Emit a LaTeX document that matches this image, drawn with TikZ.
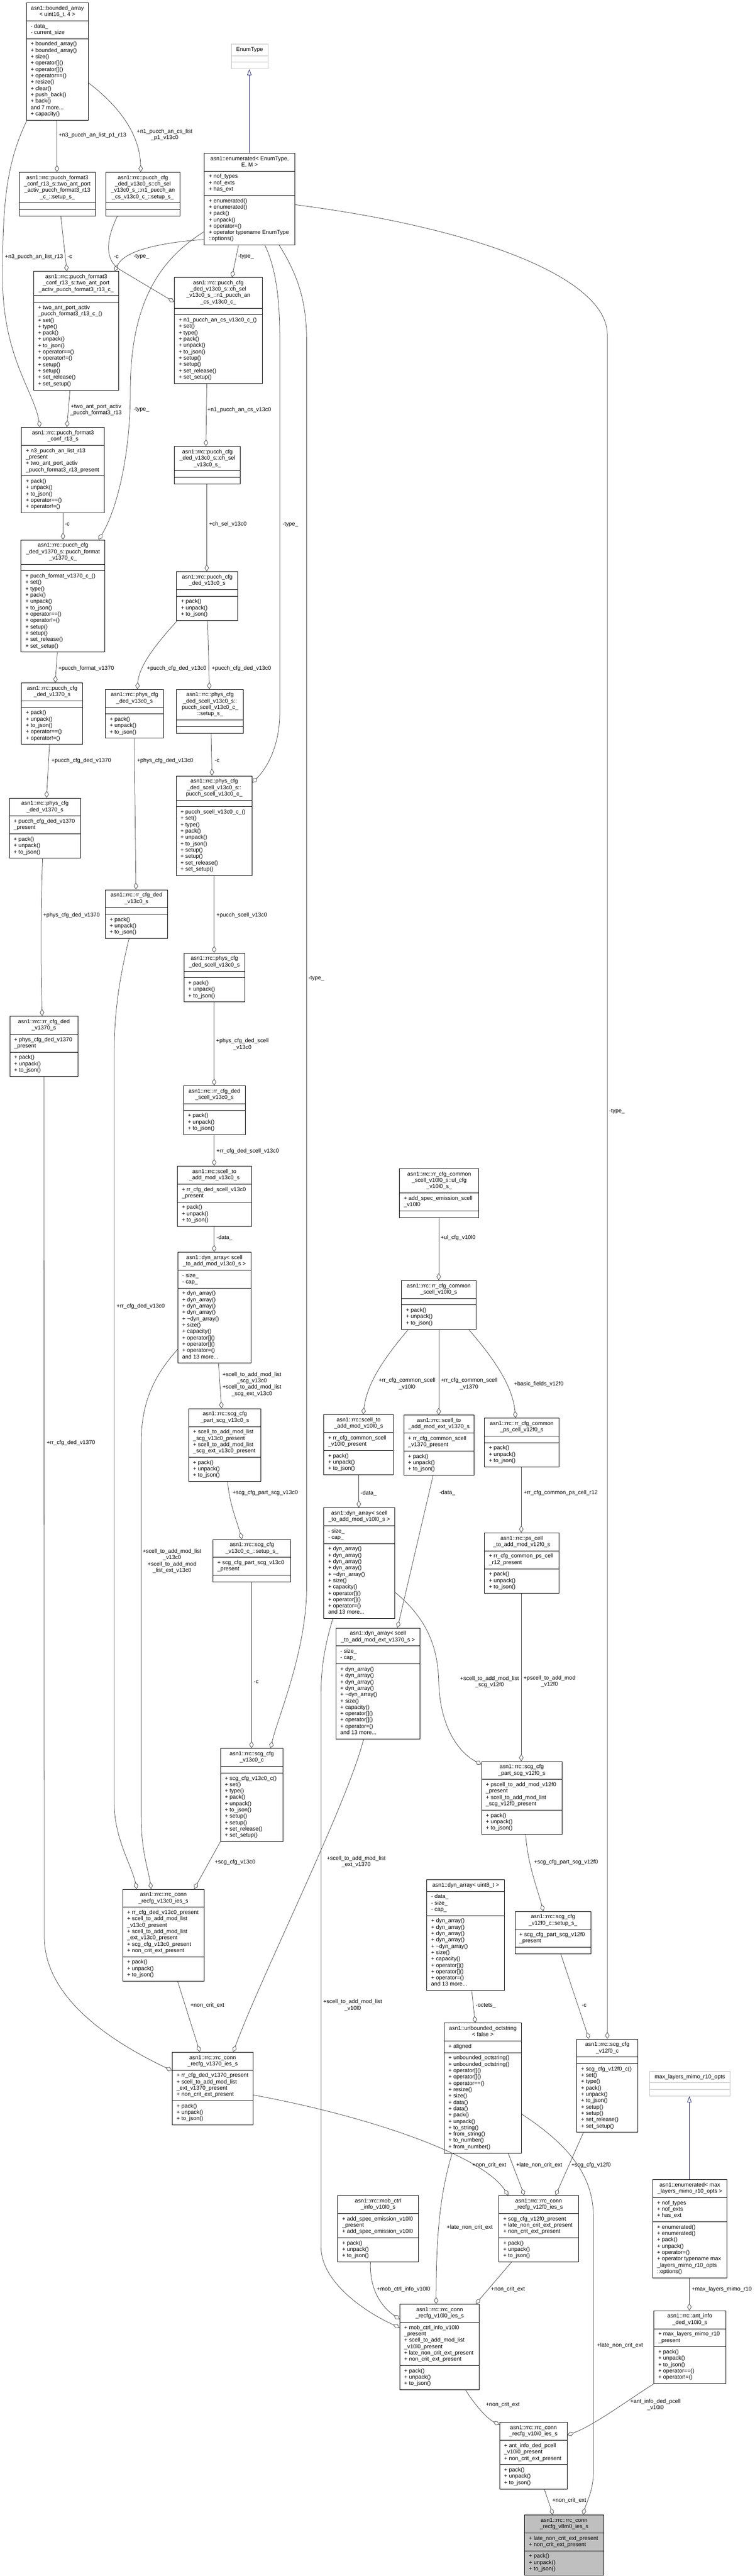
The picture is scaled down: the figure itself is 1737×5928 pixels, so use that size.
\documentclass[tikz,border=0pt]{standalone}
\usepackage{fontspec}
\setmainfont{Liberation Sans}
\usetikzlibrary{shapes.multipart,arrows.meta}
\definecolor{edgegray}{HTML}{404040}
\definecolor{inhblue}{HTML}{191970}
\definecolor{boxgray}{HTML}{BFBFBF}
\newcommand{\dfont}{\fontsize{12.9}{14.6}\selectfont}
\newcommand{\ctab}[1]{\begin{tabular}{@{}c@{}}#1\end{tabular}}
\newcommand{\ltab}[1]{\begin{tabular}{@{}l@{}}#1\end{tabular}}
\newcommand{\pujs}{+ pack()\\+ unpack()\\+ to\_json()}
\newcommand{\dynm}{+ dyn\_array()\\+ dyn\_array()\\+ dyn\_array()\\+ dyn\_array()\\+ \textasciitilde dyn\_array()\\+ size()\\+ capacity()\\+ operator[]()\\+ operator[]()\\+ operator=()\\and 13 more...}
\newcommand{\chm}[1]{+ #1()\\+ set()\\+ type()\\+ pack()\\+ unpack()\\+ to\_json()\\+ setup()\\+ setup()\\+ set\_release()\\+ set\_setup()}
\tikzstyle{cls} = [rectangle split,rectangle split parts=3,rectangle split part align={center,left,left},draw=black,line width=1.1pt,fill=white,anchor=north west,inner xsep=10pt,inner ysep=5.5pt,font=\dfont]
\tikzstyle{grcls} = [cls,draw=boxgray]
\tikzstyle{maincls} = [cls,fill=boxgray]
\tikzstyle{agg} = [draw=edgegray,line width=0.9pt,-{Diamond[open,length=16pt,width=10pt]}]
\tikzstyle{inh} = [draw=inhblue,line width=0.9pt,-{Triangle[open,length=14pt,width=10pt]}]
\tikzstyle{lbl} = [font=\dfont,inner sep=0pt,anchor=west]
\tikzstyle{mlbl} = [font=\dfont,inner sep=0pt,anchor=center]
\newcommand{\umlbox}[8][cls]{\node (#2) [#1,minimum width=#5pt] at (#3,#4) {\ctab{#6}\nodepart{two}\ltab{#7}\nodepart{three}\ltab{#8}};}
\begin{document}
\catcode`\_=12
\begin{tikzpicture}[x=1pt,y=-1pt]
\useasboundingbox (0,0) rectangle (1737,5928);
\fill[white] (0,0) rectangle (1737,5928);

% classes
\umlbox{ba}{60}{6}{143}{asn1::bounded_array\\< uint16_t, 4 >}{- data_\\- current_size}{+ bounded_array()\\+ bounded_array()\\+ size()\\+ operator[]()\\+ operator[]()\\+ operator==()\\+ resize()\\+ clear()\\+ push_back()\\+ back()\\and 7 more...\\+ capacity()}
\umlbox[grcls]{et}{532}{101}{84}{EnumType}{}{}
\umlbox{en}{470}{352}{208}{asn1::enumerated< EnumType,\\E, M >}{+ nof_types\\+ nof_exts\\+ has_ext}{+ enumerated()\\+ enumerated()\\+ pack()\\+ unpack()\\+ operator=()\\+ operator typename EnumType\\::options()}
\umlbox{tas}{44}{396}{175}{asn1::rrc::pucch_format3\\_conf_r13_s::two_ant_port\\_activ_pucch_format3_r13\\_c_::setup_s_}{}{}
\umlbox{n1s}{243}{396}{171}{asn1::rrc::pucch_cfg\\_ded_v13c0_s::ch_sel\\_v13c0_s_::n1_pucch_an\\_cs_v13c0_c_::setup_s_}{}{}
\umlbox{tac}{77}{624}{196}{asn1::rrc::pucch_format3\\_conf_r13_s::two_ant_port\\_activ_pucch_format3_r13_c_}{}{+ two_ant_port_activ\\_pucch_format3_r13_c_()\\+ set()\\+ type()\\+ pack()\\+ unpack()\\+ to_json()\\+ operator==()\\+ operator!=()\\+ setup()\\+ setup()\\+ set_release()\\+ set_setup()}
\umlbox{n1c}{401}{638}{202}{asn1::rrc::pucch_cfg\\_ded_v13c0_s::ch_sel\\_v13c0_s_::n1_pucch_an\\_cs_v13c0_c_}{}{\chm{n1_pucch_an_cs_v13c0_c_}}
\umlbox{pf3}{49}{983}{191}{asn1::rrc::pucch_format3\\_conf_r13_s}{+ n3_pucch_an_list_r13\\_present\\+ two_ant_port_activ\\_pucch_format3_r13_present}{\pujs\\+ operator==()\\+ operator!=()}
\umlbox{csel}{401}{1027}{152}{asn1::rrc::pucch_cfg\\_ded_v13c0_s::ch_sel\\_v13c0_s_}{}{}
\umlbox{pfv}{48}{1242}{193}{asn1::rrc::pucch_cfg\\_ded_v1370_s::pucch_format\\_v1370_c_}{}{+ pucch_format_v1370_c_()\\+ set()\\+ type()\\+ pack()\\+ unpack()\\+ to_json()\\+ operator==()\\+ operator!=()\\+ setup()\\+ setup()\\+ set_release()\\+ set_setup()}
\umlbox{pcv13}{406}{1315}{141}{asn1::rrc::pucch_cfg\\_ded_v13c0_s}{}{\pujs}
\umlbox{pcv1370}{49}{1571}{141}{asn1::rrc::pucch_cfg\\_ded_v1370_s}{}{\pujs\\+ operator==()\\+ operator!=()}
\umlbox{phv13}{242}{1586}{134}{asn1::rrc::phys_cfg\\_ded_v13c0_s}{}{\pujs}
\umlbox{scs}{406}{1586}{154}{asn1::rrc::phys_cfg\\_ded_scell_v13c0_s::\\pucch_scell_v13c0_c_\\::setup_s_}{}{}
\umlbox{phv1370}{21}{1836}{164}{asn1::rrc::phys_cfg\\_ded_v1370_s}{+ pucch_cfg_ded_v1370\\_present}{\pujs}
\umlbox{psc}{405}{1785}{175}{asn1::rrc::phys_cfg\\_ded_scell_v13c0_s::\\pucch_scell_v13c0_c_}{}{\chm{pucch_scell_v13c0_c_}}
\umlbox{rrv13}{242}{2047}{143}{asn1::rrc::rr_cfg_ded\\_v13c0_s}{}{\pujs}
\umlbox{phsc}{423}{2193}{140}{asn1::rrc::phys_cfg\\_ded_scell_v13c0_s}{}{\pujs}
\umlbox{rrv1370}{22}{2338}{157}{asn1::rrc::rr_cfg_ded\\_v1370_s}{+ phys_cfg_ded_v1370\\_present}{\pujs}
\umlbox{rrsc}{422}{2498}{142}{asn1::rrc::rr_cfg_ded\\_scell_v13c0_s}{}{\pujs}
\umlbox{stam13}{408}{2683}{170}{asn1::rrc::scell_to\\_add_mod_v13c0_s}{+ rr_cfg_ded_scell_v13c0\\_present}{\pujs}
\umlbox{da13}{409}{2881}{168}{asn1::dyn_array< scell\\_to_add_mod_v13c0_s >}{- size_\\- cap_}{\dynm}
\umlbox{ulc}{919}{2689}{183}{asn1::rrc::rr_cfg_common\\_scell_v10l0_s::ul_cfg\\_v10l0_s_}{+ add_spec_emission_scell\\_v10l0}{}
\umlbox{rrcs10}{924}{2946}{171}{asn1::rrc::rr_cfg_common\\_scell_v10l0_s}{}{\pujs}
\umlbox{scgp13}{434}{3241}{166}{asn1::rrc::scg_cfg\\_part_scg_v13c0_s}{+ scell_to_add_mod_list\\_scg_v13c0_present\\+ scell_to_add_mod_list\\_scg_ext_v13c0_present}{\pujs}
\umlbox{stam10}{745}{3255}{160}{asn1::rrc::scell_to\\_add_mod_v10l0_s}{+ rr_cfg_common_scell\\_v10l0_present}{\pujs}
\umlbox{stam1370}{929}{3256}{162}{asn1::rrc::scell_to\\_add_mod_ext_v1370_s}{+ rr_cfg_common_scell\\_v1370_present}{\pujs}
\umlbox{rrps}{1115}{3263}{171}{asn1::rrc::rr_cfg_common\\_ps_cell_v12f0_s}{}{\pujs}
\umlbox{da10}{745}{3469}{163}{asn1::dyn_array< scell\\_to_add_mod_v10l0_s >}{- size_\\- cap_}{\dynm}
\umlbox{psca}{1115}{3527}{171}{asn1::rrc::ps_cell\\_to_add_mod_v12f0_s}{+ rr_cfg_common_ps_cell\\_r12_present}{\pujs}
\umlbox{scgs13}{490}{3542}{179}{asn1::rrc::scg_cfg\\_v13c0_c_::setup_s_}{+ scg_cfg_part_scg_v13c0\\_present}{}
\umlbox{da1370}{773}{3746}{193}{asn1::dyn_array< scell\\_to_add_mod_ext_v1370_s >}{- size_\\- cap_}{\dynm}
\umlbox{scgc13}{507}{4023}{144}{asn1::rrc::scg_cfg\\_v13c0_c}{}{\chm{scg_cfg_v13c0_c}}
\umlbox{scgp12}{1108}{4053}{185}{asn1::rrc::scg_cfg\\_part_scg_v12f0_s}{+ pscell_to_add_mod_v12f0\\_present\\+ scell_to_add_mod_list\\_scg_v12f0_present}{\pujs}
\umlbox{da8}{982}{4325}{179}{asn1::dyn_array< uint8_t >}{- data_\\- size_\\- cap_}{\dynm}
\umlbox{v13c0}{282}{4347}{187}{asn1::rrc::rrc_conn\\_recfg_v13c0_ies_s}{+ rr_cfg_ded_v13c0_present\\+ scell_to_add_mod_list\\_v13c0_present\\+ scell_to_add_mod_list\\_ext_v13c0_present\\+ scg_cfg_v13c0_present\\+ non_crit_ext_present}{\pujs}
\umlbox{scgs12}{1185}{4398}{175}{asn1::rrc::scg_cfg\\_v12f0_c::setup_s_}{+ scg_cfg_part_scg_v12f0\\_present}{}
\umlbox{uos}{1022}{4655}{178}{asn1::unbounded_octstring\\< false >}{+ aligned}{+ unbounded_octstring()\\+ unbounded_octstring()\\+ operator[]()\\+ operator[]()\\+ operator==()\\+ resize()\\+ size()\\+ data()\\+ data()\\+ pack()\\+ unpack()\\+ to_string()\\+ from_string()\\+ to_number()\\+ from_number()}
\umlbox{scgc12}{1327}{4692}{141}{asn1::rrc::scg_cfg\\_v12f0_c}{}{\chm{scg_cfg_v12f0_c}}
\umlbox{v1370}{396}{4722}{186}{asn1::rrc::rrc_conn\\_recfg_v1370_ies_s}{+ rr_cfg_ded_v1370_present\\+ scell_to_add_mod_list\\_ext_v1370_present\\+ non_crit_ext_present}{\pujs}
\umlbox[grcls]{mlo}{1495}{4766}{185}{max_layers_mimo_r10_opts}{}{}
\umlbox{enm}{1502}{5015}{171}{asn1::enumerated< max\\_layers_mimo_r10_opts >}{+ nof_types\\+ nof_exts\\+ has_ext}{+ enumerated()\\+ enumerated()\\+ pack()\\+ unpack()\\+ operator=()\\+ operator typename max\\_layers_mimo_r10_opts\\ ::options()}
\umlbox{v12f0}{1148}{5052}{183}{asn1::rrc::rrc_conn\\_recfg_v12f0_ies_s}{+ scg_cfg_v12f0_present\\+ late_non_crit_ext_present\\+ non_crit_ext_present}{\pujs}
\umlbox{mob}{777}{5052}{186}{asn1::rrc::mob_ctrl\\_info_v10l0_s}{+ add_spec_emission_v10l0\\_present\\+ add_spec_emission_v10l0}{\pujs}
\umlbox{v10l0}{920}{5302}{183}{asn1::rrc::rrc_conn\\_recfg_v10l0_ies_s}{+ mob_ctrl_info_v10l0\\_present\\+ scell_to_add_mod_list\\_v10l0_present\\+ late_non_crit_ext_present\\+ non_crit_ext_present}{\pujs}
\umlbox{ant}{1505}{5317}{165}{asn1::rrc::ant_info\\_ded_v10i0_s}{+ max_layers_mimo_r10\\_present}{\pujs\\+ operator==()\\+ operator!=()}
\umlbox{v10i0}{1150}{5574}{155}{asn1::rrc::rrc_conn\\_recfg_v10i0_ies_s}{+ ant_info_ded_pcell\\_v10i0_present\\+ non_crit_ext_present}{\pujs}
\umlbox[maincls]{v8m0}{1207}{5787}{182}{asn1::rrc::rrc_conn\\_recfg_v8m0_ies_s}{+ late_non_crit_ext_present\\+ non_crit_ext_present}{\pujs}

% inheritance
\draw[inh] (en.north -| 574,0) -- (et.south -| 574,0);
\draw[inh] (enm.north -| 1587,0) -- (mlo.south -| 1587,0);

% members
\draw[agg] (ba.south -| 131,0) -- (tas.north -| 131,0) node[lbl] (lb1) at (135,311) {+n3_pucch_an_list_p1_r13};
\draw[agg] (ba.east |- 0,191) .. controls (262,235) and (322,300) .. (n1s.north -| 324,0) node[mlbl] (lb2) at (379,311) {\ctab{+n1_pucch_an_cs_list\\_p1_v13c0}};
\draw[agg] (ba.south -| 62,0) .. controls (12,380) and (6,480) .. (6,640) .. controls (6,820) and (78,900) .. (pf3.north -| 92,0) node[lbl] (lb3) at (11,591) {+n3_pucch_an_list_r13};
\draw[agg] (tas.south -| 140,0) -- (tac.north -| 154,0) node[lbl] (lb4) at (155,591) {-c};
\draw[agg] (en.west |- 0,551) .. controls (400,556) and (290,570) .. (tac.north -| 264,0) node[lbl] (lb5) at (307,591) {-type_};
\draw[agg] (n1s.south -| 270,0) .. controls (240,560) and (245,600) .. (275,620) -- (n1c.west |- 0,695) node[lbl] (lb6) at (262,591) {-c};
\draw[agg] (en.south -| 549,0) -- (n1c.north -| 534,0) node[lbl] (lb7) at (548,591) {-type_};
\draw[agg] (en.west |- 0,533) .. controls (380,590) and (300,680) .. (300,900) .. controls (300,1060) and (265,1180) .. (pfv.north -| 227,0) node[lbl] (lb8) at (307,943) {-type_};
\draw[agg] (en.south -| 610,0) .. controls (636,620) and (644,690) .. (644,780) -- (644,1640) .. controls (644,1720) and (612,1770) .. (psc.east |- 0,1801) node[lbl] (lb9) at (650,1207) {-type_};
\draw[agg] (en.south -| 643,0) .. controls (690,640) and (706,700) .. (706,790) -- (706,3650) .. controls (706,3800) and (640,3950) .. (scgc13.north -| 623,0) node[lbl] (lb10) at (710,2252) {-type_};
\draw[agg] (en.east |- 0,471) .. controls (1100,525) and (1398,640) .. (1398,770) -- (scgc12.north -| 1398,0) node[lbl] (lb11) at (1402,2557) {-type_};
\draw[agg] (tac.south -| 161,0) -- (pf3.north -| 154,0) node[mlbl] (lb13) at (221,944) {\ctab{+two_ant_port_activ\\_pucch_format3_r13}};
\draw[agg] (n1c.south -| 476,0) -- (csel.north -| 474,0) node[lbl] (lb14) at (477,943) {+n1_pucch_an_cs_v13c0};
\draw[agg] (pf3.south -| 145,0) -- (pfv.north -| 145,0) node[lbl] (lb15) at (149,1207) {-c};
\draw[agg] (csel.south -| 476,0) -- (pcv13.north -| 476,0) node[lbl] (lb16) at (481,1207) {+ch_sel_v13c0};
\draw[agg] (pfv.south -| 132,0) -- (pcv1370.north -| 127,0) node[lbl] (lb17) at (134,1538) {+pucch_format_v1370};
\draw[agg] (pcv13.south -| 408,0) .. controls (352,1490) and (320,1535) .. (phv13.north -| 316,0) node[lbl] (lb18) at (338,1538) {+pucch_cfg_ded_v13c0};
\draw[agg] (pcv13.south -| 478,0) -- (scs.north -| 482,0) node[lbl] (lb19) at (487,1538) {+pucch_cfg_ded_v13c0};
\draw[agg] (pcv1370.south -| 114,0) -- (phv1370.north -| 107,0) node[lbl] (lb20) at (118,1751) {+pucch_cfg_ded_v1370};
\draw[agg] (phv13.south -| 309,0) -- (rrv13.north -| 313,0) node[lbl] (lb21) at (315,1751) {+phys_cfg_ded_v13c0};
\draw[agg] (scs.south -| 486,0) -- (psc.north -| 488,0) node[lbl] (lb22) at (494,1751) {-c};
\draw[agg] (phv1370.south -| 98,0) .. controls (94,2080) and (94,2220) .. (rrv1370.north -| 97,0) node[lbl] (lb23) at (99,2106) {+phys_cfg_ded_v1370};
\draw[agg] (psc.south -| 493,0) -- (phsc.north -| 493,0) node[lbl] (lb24) at (498,2106) {+pucch_scell_v13c0};
\draw[agg] (phsc.south -| 493,0) -- (rrsc.north -| 493,0) node[mlbl] (lb25) at (558,2404) {\ctab{+phys_cfg_ded_scell\\_v13c0}};
\draw[agg] (rrsc.south -| 493,0) -- (stam13.north -| 493,0) node[lbl] (lb26) at (498,2649) {+rr_cfg_ded_scell_v13c0};
\draw[agg] (stam13.south -| 493,0) -- (da13.north -| 493,0) node[lbl] (lb27) at (498,2848) {-data_};
\draw[agg] (rrv13.south -| 297,0) .. controls (275,2250) and (263,2330) .. (263,2420) -- (263,4150) .. controls (263,4230) and (302,4290) .. (v13c0.north -| 315,0) node[lbl] (lb28) at (268,3006) {+rr_cfg_ded_v13c0};
\draw[agg] (rrv1370.south -| 101,0) -- (102,4457) .. controls (102,4600) and (260,4700) .. (v1370.west |- 0,4765) node[lbl] (lb29) at (107,3321) {+rr_cfg_ded_v1370};
\draw[agg] (da13.south -| 503,0) -- (scgp13.north -| 510,0) node[mlbl] (lb30) at (580,3186) {\ctab{+scell_to_add_mod_list\\_scg_v13c0\\+scell_to_add_mod_list\\_scg_ext_v13c0}};
\draw[agg] (da13.west |- 0,3105) .. controls (360,3160) and (325,3220) .. (325,3320) -- (325,4180) .. controls (325,4260) and (341,4300) .. (v13c0.north -| 348,0) node[mlbl] (lb31) at (396,3593) {\ctab{+scell_to_add_mod_list\\_v13c0\\+scell_to_add_mod\\_list_ext_v13c0}};
\draw[agg] (scgp13.south -| 524,0) .. controls (528,3460) and (545,3500) .. (scgs13.north -| 557,0) node[lbl] (lb32) at (535,3436) {+scg_cfg_part_scg_v13c0};
\draw[agg] (scgs13.south -| 579,0) -- (scgc13.north -| 579,0) node[lbl] (lb33) at (584,3871) {-c};
\draw[agg] (scgc13.south west) -- (v13c0.north -| 447,0) node[lbl] (lb34) at (494,4285) {+scg_cfg_v13c0};
\draw[agg] (v13c0.south -| 409,0) -- (v1370.north -| 460,0) node[lbl] (lb35) at (438,4615) {+non_crit_ext};
\draw[agg] (da1370.south -| 837,0) .. controls (800,4150) and (600,4550) .. (v1370.north -| 537,0) node[mlbl] (lb36) at (820,4285) {\ctab{+scell_to_add_mod_list\\_ext_v1370}};
\draw[agg] (da10.south -| 766,0) .. controls (750,3780) and (739,3830) .. (739,3900) -- (739,5170) .. controls (739,5260) and (860,5330) .. (v10l0.west |- 0,5356) node[mlbl] (lb37) at (812,4615) {\ctab{+scell_to_add_mod_list\\_v10l0}};
\draw[agg] (da10.east |- 0,3664) .. controls (990,3730) and (1008,3800) .. (1010,3870) .. controls (1013,3980) and (1060,4035) .. (scgp12.west |- 0,4060) node[mlbl] (lb38) at (1127,3871) {\ctab{+scell_to_add_mod_list\\_scg_v12f0}};
\draw[agg] (ulc.south -| 1010,0) -- (rrcs10.north -| 1010,0) node[lbl] (lb39) at (1014,2848) {+ul_cfg_v10l0};
\draw[agg] (rrcs10.south -| 940,0) .. controls (880,3130) and (845,3185) .. (stam10.north -| 836,0) node[mlbl] (lb40) at (937,3185) {\ctab{+rr_cfg_common_scell\\_v10l0}};
\draw[agg] (rrcs10.south -| 1010,0) -- (stam1370.north -| 1010,0) node[mlbl] (lb41) at (1080,3185) {\ctab{+rr_cfg_common_scell\\_v1370}};
\draw[agg] (rrcs10.south -| 1079,0) .. controls (1140,3130) and (1180,3190) .. (rrps.north -| 1187,0) node[lbl] (lb42) at (1183,3185) {+basic_fields_v12f0};
\draw[agg] (stam10.south -| 826,0) -- (da10.north -| 826,0) node[lbl] (lb43) at (830,3436) {-data_};
\draw[agg] (stam1370.south -| 997,0) -- (da1370.north -| 915,0) node[lbl] (lb44) at (1011,3435) {-data_};
\draw[agg] (rrps.south -| 1200,0) -- (psca.north -| 1200,0) node[lbl] (lb45) at (1205,3435) {+rr_cfg_common_ps_cell_r12};
\draw[agg] (psca.south -| 1200,0) -- (scgp12.north -| 1200,0) node[mlbl] (lb46) at (1265,3870) {\ctab{+pscell_to_add_mod\\_v12f0}};
\draw[agg] (scgp12.south -| 1210,0) .. controls (1215,4290) and (1235,4340) .. (scgs12.north -| 1251,0) node[lbl] (lb47) at (1229,4285) {+scg_cfg_part_scg_v12f0};
\draw[agg] (scgs12.south -| 1291,0) -- (scgc12.north -| 1356,0) node[lbl] (lb48) at (1339,4615) {-c};
\draw[agg] (da8.south -| 1086,0) -- (uos.north -| 1094,0) node[lbl] (lb49) at (1095,4615) {-octets_};
\draw[agg] (uos.south -| 1041,0) .. controls (1012,5050) and (1004,5150) .. (v10l0.north -| 1004,0) node[lbl] (lb51) at (1028,5126) {+late_non_crit_ext};
\draw[agg] (uos.south -| 1170,0) -- (v12f0.north -| 1207,0) node[lbl] (lb52) at (1188,4983) {+late_non_crit_ext};
\draw[agg] (scgc12.south -| 1343,0) -- (v12f0.north -| 1279,0) node[lbl] (lb53) at (1315,4983) {+scg_cfg_v12f0};
\draw[agg] (v1370.east |- 0,4821) .. controls (850,4870) and (1110,4960) .. (v12f0.north -| 1170,0) node[lbl] (lb54) at (1087,4983) {+non_crit_ext};
\draw[agg] (mob.south -| 853,0) .. controls (850,5270) and (880,5310) .. (v10l0.west |- 0,5337) node[lbl] (lb55) at (867,5268) {+mob_ctrl_info_v10l0};
\draw[agg] (v12f0.south -| 1177,0) -- (v10l0.north -| 1095,0) node[lbl] (lb56) at (1130,5268) {+non_crit_ext};
\draw[agg] (enm.south -| 1587,0) -- (ant.north -| 1587,0) node[lbl] (lb57) at (1592,5268) {+max_layers_mimo_r10};
\draw[agg] (v10l0.south -| 1072,0) .. controls (1090,5530) and (1120,5565) .. (v10i0.west |- 0,5580) node[lbl] (lb58) at (1118,5534) {+non_crit_ext};
\draw[agg] (ant.south west) .. controls (1450,5520) and (1370,5580) .. (v10i0.east |- 0,5604) node[mlbl] (lb59) at (1509,5534) {\ctab{+ant_info_ded_pcell\\_v10i0}};
\draw[agg] (uos.east |- 0,4865) .. controls (1300,4930) and (1366,5000) .. (1366,5100) -- (1366,5690) .. controls (1366,5730) and (1350,5760) .. (v8m0.north -| 1342,0) node[lbl] (lb60) at (1374,5398) {+late_non_crit_ext};
\draw[agg] (v10i0.south -| 1253,0) -- (v8m0.north -| 1273,0) node[lbl] (lb61) at (1271,5754) {+non_crit_ext};

\end{tikzpicture}
\end{document}
